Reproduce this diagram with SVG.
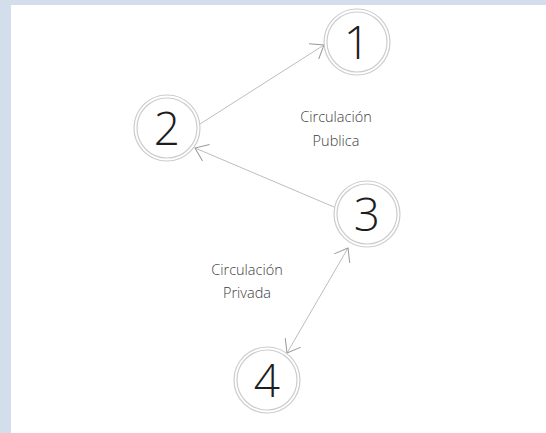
<svg xmlns="http://www.w3.org/2000/svg" width="546" height="433" viewBox="0 0 546 433">
<style>
.ring{fill:none;stroke:#cdcdcd;stroke-width:1.2}
.num{font-family:"Open Sans","DejaVu Sans",sans-serif;font-weight:300;font-size:46px;fill:#1e1e1e;text-anchor:middle}
.lbl{font-family:"Open Sans","DejaVu Sans",sans-serif;font-weight:300;font-size:14.5px;fill:#3c3c3c;text-anchor:middle}
.conn{fill:none;stroke:#bdbdbd;stroke-width:1}
</style>
<defs>
<marker id="arr" viewBox="-14 -11 16 22" refX="0" refY="0" markerWidth="16" markerHeight="22" markerUnits="userSpaceOnUse" orient="auto-start-reverse" overflow="visible">
<path d="M -12 -9 L 0 0 L -12 9" fill="none" stroke="#999999" stroke-width="1"/>
</marker>
</defs>
<rect x="0" y="0" width="546" height="433" fill="#d3deed"/>
<rect x="11" y="5" width="535" height="428" fill="#ffffff"/>
<g id="connectors">
<line class="conn" x1="200" y1="124" x2="324" y2="45" marker-end="url(#arr)"/>
<line class="conn" x1="334" y1="207" x2="195" y2="148" marker-end="url(#arr)"/>
<line class="conn" x1="287" y1="353" x2="348" y2="248" marker-start="url(#arr)" marker-end="url(#arr)"/>
</g>
<g id="node1">
<circle class="ring" cx="357" cy="42" r="33"/>
<circle class="ring" cx="357" cy="42" r="30"/>
<text class="num" x="357" y="59">1</text>
</g>
<g id="node2">
<circle class="ring" cx="167" cy="128" r="33"/>
<circle class="ring" cx="167" cy="128" r="30"/>
<text class="num" x="167" y="145">2</text>
</g>
<g id="node3">
<circle class="ring" cx="367" cy="214" r="33"/>
<circle class="ring" cx="367" cy="214" r="30"/>
<text class="num" x="367" y="231">3</text>
</g>
<g id="node4">
<circle class="ring" cx="267" cy="380" r="33"/>
<circle class="ring" cx="267" cy="380" r="30"/>
<text class="num" x="267" y="397">4</text>
</g>
<g id="label-publica">
<text class="lbl" x="336" y="122">Circulación</text>
<text class="lbl" x="336" y="146">Publica</text>
</g>
<g id="label-privada">
<text class="lbl" x="247" y="275">Circulación</text>
<text class="lbl" x="247" y="298">Privada</text>
</g>
</svg>
